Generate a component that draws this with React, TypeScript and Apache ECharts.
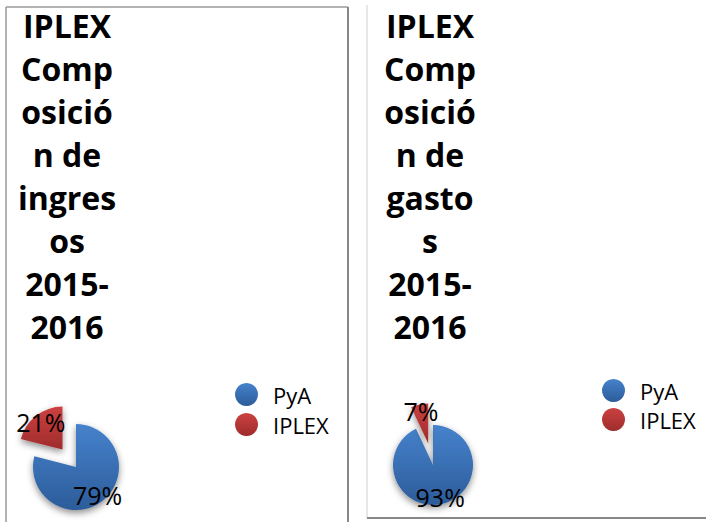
import React, { useEffect, useRef } from "react";
import * as echarts from "echarts";

const categories = ["PyA", "IPLEX"];
const ingresosValues = [79, 21];
const gastosValues = [93, 7];
const titleIngresos = ["IPLEX", "Comp", "osició", "n de", "ingres", "os", "2015-", "2016"];
const titleGastos = ["IPLEX", "Comp", "osició", "n de", "gasto", "s", "2015-", "2016"];

const blueGrad = () =>
  new echarts.graphic.LinearGradient(0, 0, 0, 1, [
    { offset: 0, color: "#4682cc" },
    { offset: 1, color: "#2c5c9a" },
  ]);
const redGrad = () =>
  new echarts.graphic.LinearGradient(0, 0, 0, 1, [
    { offset: 0, color: "#cc4141" },
    { offset: 1, color: "#9f2c2c" },
  ]);

function buildData(values: number[], transparent: boolean) {
  return categories.map((name, i) => ({
    name,
    value: values[i],
    selected: i === 1,
    itemStyle: transparent
      ? { color: "rgba(0,0,0,0)", shadowBlur: 0, shadowColor: "rgba(0,0,0,0)" }
      : { color: i === 0 ? blueGrad() : redGrad() },
  }));
}

function pieSeries(values: number[], center: number[], r: number) {
  return [
    {
      type: "pie",
      center,
      radius: r,
      startAngle: 90,
      clockwise: true,
      selectedMode: "single",
      selectedOffset: 22,
      silent: true,
      label: { show: false },
      labelLine: { show: false },
      itemStyle: {
        shadowBlur: 7,
        shadowOffsetY: 3,
        shadowColor: "rgba(0,0,0,0.45)",
      },
      emphasis: { disabled: true },
      data: buildData(values, false),
    },
    {
      type: "pie",
      center,
      radius: r * 1.5,
      startAngle: 90,
      clockwise: true,
      selectedMode: "single",
      selectedOffset: 22,
      silent: true,
      label: {
        show: true,
        position: "inside",
        formatter: "{c}%",
        color: "#000",
        fontSize: 25,
        fontFamily: "Open Sans",
      },
      labelLine: { show: false },
      emphasis: { disabled: true },
      data: buildData(values, true),
    },
  ];
}

function legend(left: number, top: number, gap: number) {
  return {
    data: categories,
    orient: "vertical",
    left,
    top,
    icon: "circle",
    itemWidth: 23,
    itemHeight: 23,
    itemGap: gap,
    selectedMode: false,
    textStyle: {
      fontSize: 22,
      lineHeight: 22,
      fontFamily: "Open Sans",
      color: "#000",
      padding: [0, 0, 0, 10],
    },
  };
}

export default function App() {
  const ref = useRef<HTMLDivElement>(null);
  useEffect(() => {
    if (!ref.current) return;
    const chart = echarts.init(ref.current, undefined, { renderer: "svg" });
    const titleStyle = {
      fill: "#000",
      fontSize: 32,
      fontWeight: "bold",
      fontFamily: "Open Sans",
      align: "center",
      verticalAlign: "top",
      lineHeight: 43,
    };
    chart.setOption({
      animation: false,
      backgroundColor: "#fff",
      graphic: [
        { type: "line", shape: { x1: 6, y1: 7, x2: 348, y2: 7 }, style: { stroke: "#9a9a9a", lineWidth: 1.5 } },
        { type: "line", shape: { x1: 6, y1: 7, x2: 6, y2: 522 }, style: { stroke: "#9a9a9a", lineWidth: 1.5 } },
        { type: "line", shape: { x1: 348, y1: 7, x2: 348, y2: 522 }, style: { stroke: "#888", lineWidth: 2 } },
        { type: "line", shape: { x1: 367, y1: 5, x2: 367, y2: 518 }, style: { stroke: "#cfcfcf", lineWidth: 1 } },
        { type: "line", shape: { x1: 367, y1: 518, x2: 706, y2: 518 }, style: { stroke: "#888", lineWidth: 2 } },
        { type: "text", x: 67, y: 4, style: { ...titleStyle, text: titleIngresos.join("\n") } },
        { type: "text", x: 430, y: 4, style: { ...titleStyle, text: titleGastos.join("\n") } },
      ],
      legend: [legend(230, 378, 7), legend(597, 374, 6)],
      series: [
        ...pieSeries(ingresosValues, [76, 467], 43),
        ...pieSeries(gastosValues, [433, 465], 40),
      ],
    });
    return () => chart.dispose();
  }, []);
  return (
    <div
      ref={ref}
      style={{ position: "fixed", left: 0, top: 0, width: 706, height: 522 }}
    />
  );
}
